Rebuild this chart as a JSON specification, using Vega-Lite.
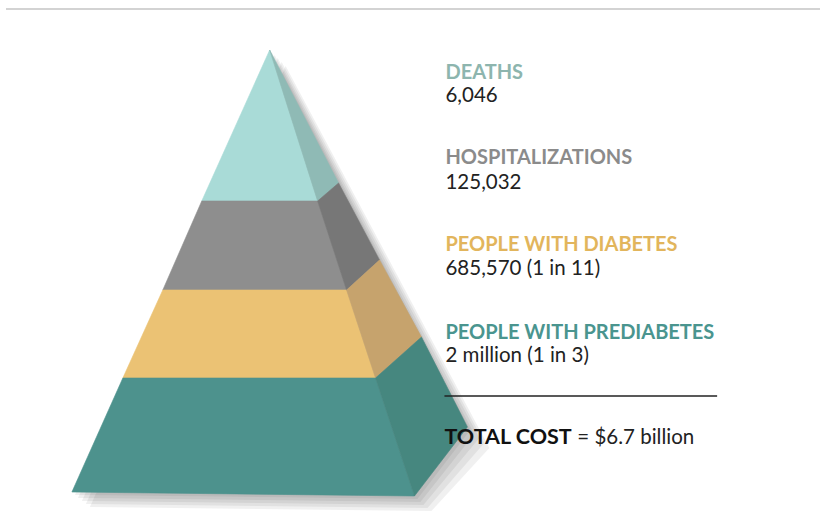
{
  "$schema": "https://vega.github.io/schema/vega-lite/v6.json",
  "autosize": {"type": "fit", "contains": "padding"},
  "width": 821,
  "height": 531,
  "padding": 0,
  "background": "white",
  "view": {"stroke": null},
  "config": {"axis": {"disable": true}},
  "layer": [
    {
      "data": {"values": [{"x": 6, "x2": 821, "y": 9}]},
      "mark": {"type": "rule", "color": "#c4c4c4", "strokeWidth": 1.5},
      "encoding": {
        "x": {"field": "x", "type": "quantitative", "scale": {"domain": [0, 821]}, "axis": null},
        "x2": {"field": "x2"},
        "y": {"field": "y", "type": "quantitative", "scale": {"domain": [0, 531], "reverse": true}, "axis": null}
      }
    },
    {
      "data": {"values": [
        {"s": "a", "i": 1, "x": 272, "y": 52}, {"s": "a", "i": 2, "x": 471, "y": 430}, {"s": "a", "i": 3, "x": 418, "y": 499}, {"s": "a", "i": 4, "x": 75, "y": 495},
        {"s": "b", "i": 1, "x": 275, "y": 55}, {"s": "b", "i": 2, "x": 475, "y": 434}, {"s": "b", "i": 3, "x": 421, "y": 502}, {"s": "b", "i": 4, "x": 78, "y": 498},
        {"s": "c", "i": 1, "x": 278, "y": 58}, {"s": "c", "i": 2, "x": 480, "y": 438}, {"s": "c", "i": 3, "x": 424, "y": 505}, {"s": "c", "i": 4, "x": 82, "y": 501},
        {"s": "d", "i": 1, "x": 282, "y": 62}, {"s": "d", "i": 2, "x": 485, "y": 443}, {"s": "d", "i": 3, "x": 428, "y": 508}, {"s": "d", "i": 4, "x": 86, "y": 504},
        {"s": "e", "i": 1, "x": 286, "y": 66}, {"s": "e", "i": 2, "x": 490, "y": 448}, {"s": "e", "i": 3, "x": 432, "y": 511}, {"s": "e", "i": 4, "x": 90, "y": 507}
      ]},
      "mark": {"type": "line", "interpolate": "linear-closed", "fill": "#000000", "fillOpacity": 0.06, "strokeWidth": 0},
      "encoding": {
        "x": {"field": "x", "type": "quantitative", "scale": {"domain": [0, 821]}, "axis": null},
        "y": {"field": "y", "type": "quantitative", "scale": {"domain": [0, 531], "reverse": true}, "axis": null},
        "detail": {"field": "s"},
        "order": {"field": "i", "type": "quantitative"}
      }
    },
    {
      "data": {"values": [
        {"face": "deaths front", "i": 1, "x": 270, "y": 50}, {"face": "deaths front", "i": 2, "x": 318, "y": 201}, {"face": "deaths front", "i": 3, "x": 202, "y": 201},
        {"face": "deaths side", "i": 1, "x": 270, "y": 50}, {"face": "deaths side", "i": 2, "x": 339, "y": 183}, {"face": "deaths side", "i": 3, "x": 318, "y": 201},
        {"face": "hospitalizations front", "i": 1, "x": 202, "y": 201}, {"face": "hospitalizations front", "i": 2, "x": 318, "y": 201}, {"face": "hospitalizations front", "i": 3, "x": 347, "y": 290}, {"face": "hospitalizations front", "i": 4, "x": 163, "y": 290},
        {"face": "hospitalizations side", "i": 1, "x": 318, "y": 201}, {"face": "hospitalizations side", "i": 2, "x": 339, "y": 183}, {"face": "hospitalizations side", "i": 3, "x": 380, "y": 260}, {"face": "hospitalizations side", "i": 4, "x": 347, "y": 290},
        {"face": "diabetes front", "i": 1, "x": 163, "y": 290}, {"face": "diabetes front", "i": 2, "x": 347, "y": 290}, {"face": "diabetes front", "i": 3, "x": 376, "y": 378}, {"face": "diabetes front", "i": 4, "x": 123, "y": 378},
        {"face": "diabetes side", "i": 1, "x": 347, "y": 290}, {"face": "diabetes side", "i": 2, "x": 380, "y": 260}, {"face": "diabetes side", "i": 3, "x": 422, "y": 337}, {"face": "diabetes side", "i": 4, "x": 376, "y": 378},
        {"face": "prediabetes front", "i": 1, "x": 123, "y": 378}, {"face": "prediabetes front", "i": 2, "x": 376, "y": 378}, {"face": "prediabetes front", "i": 3, "x": 415, "y": 496}, {"face": "prediabetes front", "i": 4, "x": 72, "y": 492},
        {"face": "prediabetes side", "i": 1, "x": 376, "y": 378}, {"face": "prediabetes side", "i": 2, "x": 422, "y": 337}, {"face": "prediabetes side", "i": 3, "x": 468, "y": 427}, {"face": "prediabetes side", "i": 4, "x": 415, "y": 496}
      ]},
      "mark": {"type": "line", "interpolate": "linear-closed", "strokeWidth": 0.6},
      "encoding": {
        "x": {"field": "x", "type": "quantitative", "scale": {"domain": [0, 821]}, "axis": null},
        "y": {"field": "y", "type": "quantitative", "scale": {"domain": [0, 531], "reverse": true}, "axis": null},
        "order": {"field": "i", "type": "quantitative"},
        "fill": {"field": "face", "type": "nominal", "legend": null, "scale": {
          "domain": ["deaths front", "deaths side", "hospitalizations front", "hospitalizations side", "diabetes front", "diabetes side", "prediabetes front", "prediabetes side"],
          "range": ["#a9dbd7", "#8fbab5", "#8e8e8e", "#777777", "#ebc274", "#c6a36d", "#4d928d", "#46877f"]}},
        "stroke": {"field": "face", "type": "nominal", "legend": null, "scale": {
          "domain": ["deaths front", "deaths side", "hospitalizations front", "hospitalizations side", "diabetes front", "diabetes side", "prediabetes front", "prediabetes side"],
          "range": ["#a9dbd7", "#8fbab5", "#8e8e8e", "#777777", "#ebc274", "#c6a36d", "#4d928d", "#46877f"]}}
      }
    },
    {
      "data": {"values": [{"x": 445, "x2": 718, "y": 396}]},
      "mark": {"type": "rule", "color": "#222222", "strokeWidth": 1.3},
      "encoding": {
        "x": {"field": "x", "type": "quantitative", "scale": {"domain": [0, 821]}, "axis": null},
        "x2": {"field": "x2"},
        "y": {"field": "y", "type": "quantitative", "scale": {"domain": [0, 531], "reverse": true}, "axis": null}
      }
    },
    {
      "data": {"values": [
        {"group": "deaths", "label": "DEATHS", "x": 446, "y": 79},
        {"group": "hospitalizations", "label": "HOSPITALIZATIONS", "x": 446, "y": 164},
        {"group": "diabetes", "label": "PEOPLE WITH DIABETES", "x": 446, "y": 251},
        {"group": "prediabetes", "label": "PEOPLE WITH PREDIABETES", "x": 446, "y": 339}
      ]},
      "mark": {"type": "text", "align": "left", "baseline": "alphabetic", "font": "Lato", "fontWeight": "bold", "fontSize": 20},
      "encoding": {
        "x": {"field": "x", "type": "quantitative", "scale": {"domain": [0, 821]}, "axis": null},
        "y": {"field": "y", "type": "quantitative", "scale": {"domain": [0, 531], "reverse": true}, "axis": null},
        "text": {"field": "label"},
        "color": {"field": "group", "type": "nominal", "legend": null, "scale": {
          "domain": ["deaths", "hospitalizations", "diabetes", "prediabetes"],
          "range": ["#8db5ae", "#8b8b8b", "#e2b55c", "#4a958f"]}}
      }
    },
    {
      "data": {"values": [
        {"label": "6,046", "x": 446, "y": 102},
        {"label": "125,032", "x": 446, "y": 189},
        {"label": "685,570 (1 in 11)", "x": 446, "y": 275},
        {"label": "2 million (1 in 3)", "x": 446, "y": 362},
        {"label": "= $6.7 billion", "x": 578, "y": 444}
      ]},
      "mark": {"type": "text", "align": "left", "baseline": "alphabetic", "font": "Lato", "fontSize": 20.5, "color": "#222222"},
      "encoding": {
        "x": {"field": "x", "type": "quantitative", "scale": {"domain": [0, 821]}, "axis": null},
        "y": {"field": "y", "type": "quantitative", "scale": {"domain": [0, 531], "reverse": true}, "axis": null},
        "text": {"field": "label"}
      }
    },
    {
      "data": {"values": [{"label": "TOTAL COST", "x": 445, "y": 444}]},
      "mark": {"type": "text", "align": "left", "baseline": "alphabetic", "font": "Lato", "fontWeight": "bold", "fontSize": 21.5, "color": "#111111"},
      "encoding": {
        "x": {"field": "x", "type": "quantitative", "scale": {"domain": [0, 821]}, "axis": null},
        "y": {"field": "y", "type": "quantitative", "scale": {"domain": [0, 531], "reverse": true}, "axis": null},
        "text": {"field": "label"}
      }
    }
  ]
}
